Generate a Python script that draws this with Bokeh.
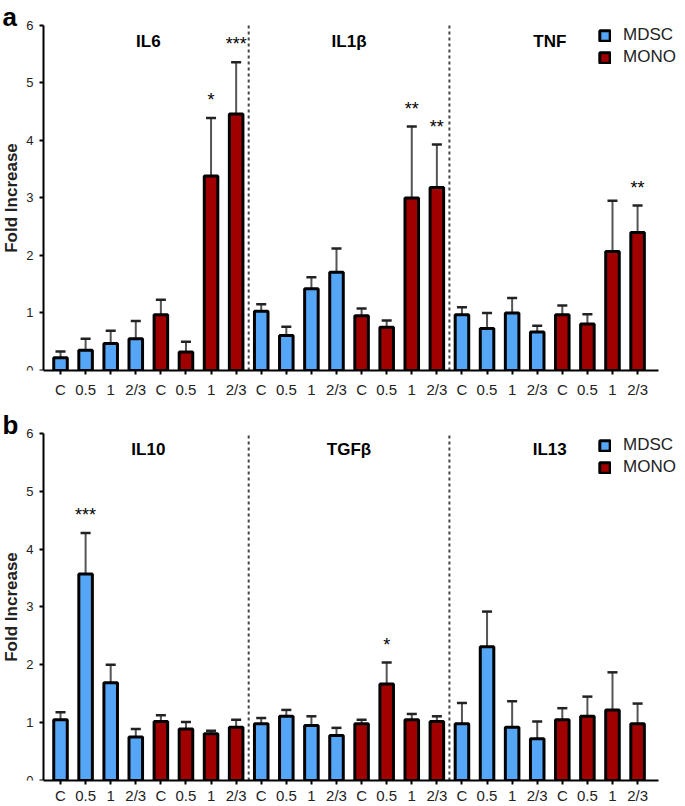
from bokeh.plotting import figure
from bokeh.models import Range1d, FixedTicker, Label, Legend, LegendItem, ColumnDataSource, LinearAxis
from bokeh.layouts import column
from bokeh.embed import file_html
from bokeh.resources import INLINE

FONT = "Liberation Sans"
BLUE = "#55A6F6"
RED = "#A00000"

conditions = ["C", "0.5", "1", "2/3"]
cells = ["MDSC", "MONO"]

# ---------------- panel a ----------------
cytokines_a = ["IL6", "IL1β", "TNF"]
il6_mdsc = [0.22, 0.35, 0.47, 0.55]
il6_mdsc_sem = [0.11, 0.20, 0.22, 0.31]
il6_mono = [0.97, 0.32, 3.38, 4.46]
il6_mono_sem = [0.26, 0.18, 1.01, 0.90]
il1b_mdsc = [1.03, 0.61, 1.42, 1.71]
il1b_mdsc_sem = [0.12, 0.15, 0.20, 0.41]
il1b_mono = [0.95, 0.75, 3.00, 3.18]
il1b_mono_sem = [0.13, 0.12, 1.24, 0.75]
tnf_mdsc = [0.97, 0.73, 1.00, 0.67]
tnf_mdsc_sem = [0.13, 0.27, 0.26, 0.11]
tnf_mono = [0.97, 0.81, 2.07, 2.40]
tnf_mono_sem = [0.16, 0.17, 0.88, 0.47]
stars_a_mdsc = [["", "", "", ""], ["", "", "", ""], ["", "", "", ""]]
stars_a_mono = [["", "", "*", "***"], ["", "", "**", "**"], ["", "", "", "**"]]

# ---------------- panel b ----------------
cytokines_b = ["IL10", "TGFβ", "IL13"]
il10_mdsc = [1.05, 3.57, 1.69, 0.75]
il10_mdsc_sem = [0.13, 0.71, 0.31, 0.14]
il10_mono = [1.02, 0.89, 0.81, 0.92]
il10_mono_sem = [0.11, 0.12, 0.05, 0.13]
tgfb_mdsc = [0.98, 1.11, 0.95, 0.78]
tgfb_mdsc_sem = [0.10, 0.11, 0.16, 0.13]
tgfb_mono = [0.98, 1.67, 1.05, 1.02]
tgfb_mono_sem = [0.07, 0.37, 0.10, 0.09]
il13_mdsc = [0.98, 2.31, 0.92, 0.72]
il13_mdsc_sem = [0.36, 0.61, 0.45, 0.30]
il13_mono = [1.05, 1.11, 1.22, 0.98]
il13_mono_sem = [0.20, 0.34, 0.65, 0.35]
stars_b_mdsc = [["", "***", "", ""], ["", "", "", ""], ["", "", "", ""]]
stars_b_mono = [["", "", "", ""], ["", "*", "", ""], ["", "", "", ""]]

y_ticks = [0, 1, 2, 3, 4, 5, 6]
Y_MAX = 6

# layout constants (pixels)
W = 685
AXIS_X = 43        # y axis position
PX_PER_BAR = 25.09


def make_panel(letter, cytokines, mdsc, mdsc_sem, mono, mono_sem, stars_mdsc, stars_mono,
               height, frame_bottom_px, y6_px, x_standoff, legend_y):
    n_cond = len(conditions)
    group = 2 * n_cond
    n = group * len(cytokines)
    x_axis_start = -0.678
    x_axis_end = n - 0.16
    x_min = x_axis_start - AXIS_X / PX_PER_BAR
    x_max = x_axis_start + (W - AXIS_X) / PX_PER_BAR
    frame_h = height - frame_bottom_px
    px_per_unit = (frame_h - y6_px) / Y_MAX
    y_max = Y_MAX + y6_px / px_per_unit

    p = figure(width=W, height=height, x_range=Range1d(x_min, x_max), y_range=Range1d(0, y_max),
               output_backend="svg", toolbar_location=None, y_axis_location=None,
               min_border_left=0, min_border_right=0, min_border_top=0,
               min_border_bottom=frame_bottom_px)
    p.grid.visible = False
    p.outline_line_color = None

    renderers = {}
    for cell, vals, sems, stars, color, off in [
        ("MDSC", mdsc, mdsc_sem, stars_mdsc, BLUE, 0),
        ("MONO", mono, mono_sem, stars_mono, RED, n_cond),
    ]:
        xs, tops, errs, st = [], [], [], []
        for ci in range(len(cytokines)):
            for j in range(n_cond):
                xs.append(ci * group + off + j)
                tops.append(vals[ci][j])
                errs.append(vals[ci][j] + sems[ci][j])
                st.append(stars[ci][j])
        src = ColumnDataSource(dict(x=xs, top=tops, err=errs,
                                    cl=[x - 0.2 for x in xs], cr=[x + 0.2 for x in xs]))
        p.segment(x0="x", y0="top", x1="x", y1="err", source=src, line_color="#555555", line_width=2)
        p.segment(x0="cl", y0="err", x1="cr", y1="err", source=src, line_color="#222222", line_width=2.5)
        r = p.vbar(x="x", top="top", bottom=0, width=0.54, source=src,
                   fill_color=color, line_color="black", line_width=3)
        renderers[cell] = r
        for x, e, s in zip(xs, errs, st):
            if s:
                p.add_layout(Label(x=x, y=e + 0.31, text=s, text_align="center",
                                   text_baseline="alphabetic", text_font=FONT,
                                   text_font_size="18px", text_color="black"))

    dividers = [ci * group - 0.5 for ci in range(1, len(cytokines))]
    p.segment(x0=dividers, y0=[0] * len(dividers), x1=dividers, y1=[Y_MAX] * len(dividers),
              line_color="#444444", line_width=2, line_dash="3 3")

    for ci, name in enumerate(cytokines):
        p.add_layout(Label(x=ci * group + (group - 1) / 2, y=5.72, text=name, text_align="center",
                           text_baseline="middle", text_font=FONT, text_font_style="bold",
                           text_font_size="17px", text_color="black"))

    p.add_layout(Label(x=x_min + 2 / PX_PER_BAR, y=Y_MAX + 8 / px_per_unit, text=letter,
                       text_align="left", text_baseline="alphabetic",
                       text_font=FONT, text_font_style="bold", text_font_size="26px", text_color="black"))

    legend = Legend(items=[LegendItem(label=c, renderers=[renderers[c]]) for c in cells],
                    location=(598, legend_y), glyph_width=13, glyph_height=13, label_standoff=12,
                    spacing=2, padding=0, margin=0, border_line_alpha=0, background_fill_alpha=0,
                    label_text_font=FONT, label_text_font_size="17px", label_text_color="#222222",
                    label_height=18)
    p.add_layout(legend)

    yaxis = LinearAxis(fixed_location=x_axis_start, bounds=(0, Y_MAX), ticker=FixedTicker(ticks=y_ticks))
    p.add_layout(yaxis, "left")

    p.xaxis.ticker = FixedTicker(ticks=list(range(n)))
    p.xaxis.bounds = (x_axis_start, x_axis_end)
    p.xaxis.major_label_overrides = {i: conditions[i % n_cond] for i in range(n)}
    for ax in (p.xaxis[0], yaxis):
        ax.axis_line_width = 2
        ax.axis_line_color = "black"
        ax.major_tick_line_width = 2
        ax.major_tick_line_color = "black"
        ax.major_tick_out = 4
        ax.major_tick_in = 0
        ax.minor_tick_line_color = None
        ax.major_label_text_font = FONT
        ax.major_label_text_color = "#222222"
    p.xaxis.major_label_standoff = x_standoff
    p.xaxis.major_label_text_font_size = "15px"
    yaxis.major_label_standoff = 6
    yaxis.major_label_text_font_size = "13px"
    yaxis.axis_label = "Fold Increase"
    yaxis.axis_label_text_font = FONT
    yaxis.axis_label_text_font_style = "bold"
    yaxis.axis_label_text_font_size = "17px"
    yaxis.axis_label_text_color = "#222222"
    yaxis.axis_label_standoff = 2
    return p


pa = make_panel("a", cytokines_a,
                [il6_mdsc, il1b_mdsc, tnf_mdsc], [il6_mdsc_sem, il1b_mdsc_sem, tnf_mdsc_sem],
                [il6_mono, il1b_mono, tnf_mono], [il6_mono_sem, il1b_mono_sem, tnf_mono_sem],
                stars_a_mdsc, stars_a_mono,
                height=400, frame_bottom_px=28, y6_px=25, x_standoff=6, legend_y=303)
pb = make_panel("b", cytokines_b,
                [il10_mdsc, tgfb_mdsc, il13_mdsc], [il10_mdsc_sem, tgfb_mdsc_sem, il13_mdsc_sem],
                [il10_mono, tgfb_mono, il13_mono], [il10_mono_sem, tgfb_mono_sem, il13_mono_sem],
                stars_b_mdsc, stars_b_mono,
                height=406, frame_bottom_px=25, y6_px=33, x_standoff=2, legend_y=303)

layout = column(pa, pb, spacing=0)
open("out.html", "w").write(file_html(layout, INLINE))
